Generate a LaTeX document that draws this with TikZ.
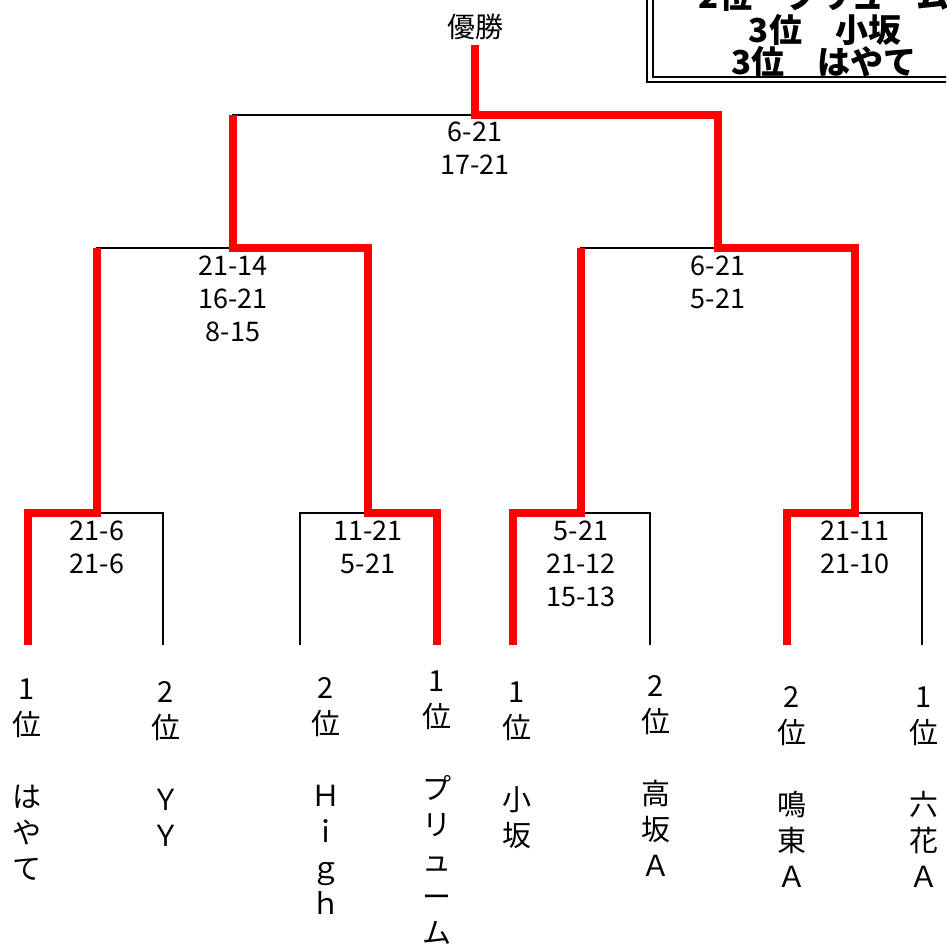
\documentclass[tikz,border=0pt]{standalone}
\usepackage{fontspec}
\setmainfont{Noto Sans CJK JP}
\newfontfamily\popfont{Noto Sans CJK JP}

\begin{document}
\begin{tikzpicture}[x=1pt,y=-1pt,
                  lose/.style={line width=1.8pt},
                  win/.style={red,line width=8pt,line join=miter},
                  score/.style={font=\fontsize{27}{33}\selectfont,align=center,anchor=north,inner sep=0pt},
                  team/.style={font=\fontsize{29}{36}\selectfont,align=center,anchor=north,inner sep=0pt},
                  rank/.style={font=\popfont\bfseries\fontsize{33}{33}\selectfont,inner sep=0pt}]
                  \useasboundingbox (0,0) rectangle (946,947);
                  \begin{scope}
                  \clip (0,0) rectangle (946,947);
                  \draw[line width=2pt] (647,-10) rectangle (960,82);
                  \draw[line width=1.5pt] (653,-10) rectangle (960,77);
                  \node[rank] (r1) at (824,-4) {2位　プリューム};
                  \node[rank] (r2) at (825,30) {3位　小坂};
                  \node[rank] (r3) at (824,62) {3位　はやて};
                  \end{scope}
                  \coordinate (t1) at (28,645);
                  \coordinate (t2) at (163,645);
                  \coordinate (t3) at (300,645);
                  \coordinate (t4) at (437,645);
                  \coordinate (t5) at (513,645);
                  \coordinate (t6) at (650,645);
                  \coordinate (t7) at (787,645);
                  \coordinate (t8) at (922,645);
                  \coordinate (q1) at (97,513);
                  \coordinate (q2) at (368,513);
                  \coordinate (q3) at (581,513);
                  \coordinate (q4) at (855,513);
                  \coordinate (s1) at (233,248);
                  \coordinate (s2) at (718,248);
                  \coordinate (f) at (475,115);
                  \coordinate (c) at (475,45);
                  \foreach \a/\b/\m in {t1/t2/q1,t3/t4/q2,t5/t6/q3,t7/t8/q4,q1/q2/s1,q3/q4/s2,s1/s2/f}
                      \draw[lose] (\a) |- (\m) -| (\b);
                  \draw[win] (t1) |- (q1) -- (q1 |- s1);
                  \draw[win] (t4) |- (q2) |- (s1) -- (s1 |- f);
                  \draw[win] (t5) |- (q3) -- (q3 |- s2);
                  \draw[win] (t7) |- (q4) |- (s2) |- (f) -- (c);
                  \node[font=\fontsize{28}{28}\selectfont] (champ) at (475,27) {優勝};
                  \node[score] (sf) at (475,122) {6-21\\17-21};
                  \node[score] (ss1) at (233,256) {21-14\\16-21\\8-15};
                  \node[score] (ss2) at (718,256) {6-21\\5-21};
                  \node[score] (sq1) at (97,521) {21-6\\21-6};
                  \node[score] (sq2) at (368,521) {11-21\\5-21};
                  \node[score] (sq3) at (581,521) {5-21\\21-12\\15-13};
                  \node[score] (sq4) at (855,521) {21-11\\21-10};
                  \node[team] (n1) at (27,679) {1\\位\\\\は\\や\\て};
                  \node[team] (n2) at (166,681) {2\\位\\\\Ｙ\\Ｙ};
                  \node[team] (n3) at (326,677) {2\\位\\\\Ｈ\\ｉ\\ｇ\\ｈ};
                  \node[team] (n4) at (437,671) {1\\位\\\\プ\\リ\\ュ\\ー\\ム};
                  \node[team] (n5) at (517,682) {1\\位\\\\小\\坂};
                  \node[team] (n6) at (656,675) {2\\位\\\\高\\坂\\Ａ};
                  \node[team] (n7) at (792,686) {2\\位\\\\鳴\\東\\Ａ};
                  \node[team] (n8) at (924,687) {1\\位\\\\六\\花\\Ａ};
              \end{tikzpicture}
\end{document}
